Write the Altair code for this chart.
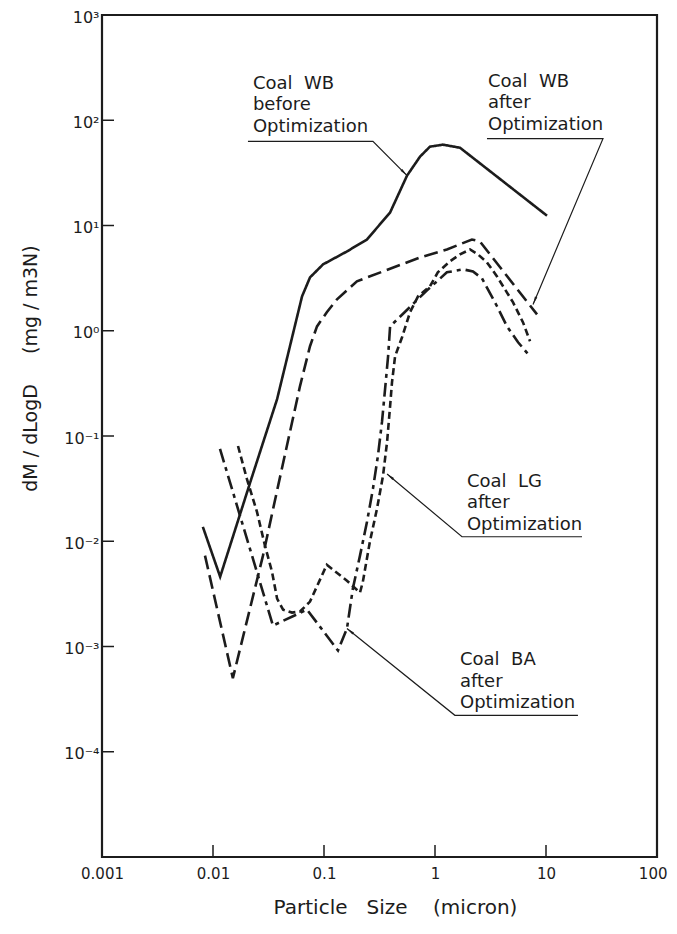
import math
import altair as alt
import pandas as pd

# ---------------- data ----------------
series_names = ["Coal WB before", "Coal WB after", "Coal LG after", "Coal BA after"]

wb_before_x = [0.0081, 0.0116, 0.022, 0.0378, 0.0634, 0.0748, 0.098, 0.161, 0.244, 0.394,
               0.56, 0.733, 0.90, 1.18, 1.68, 10.2]
wb_before_y = [0.0137, 0.0046, 0.0383, 0.224, 2.12, 3.21, 4.27, 5.67, 7.37, 13.3,
               29.8, 45.1, 56.1, 58.6, 54.8, 12.4]

wb_after_x = [0.00847, 0.0151, 0.0282, 0.0386, 0.0608, 0.0748, 0.0865, 0.106, 0.131, 0.198,
              0.340, 0.733, 1.28, 2.15, 2.54, 8.3]
wb_after_y = [0.0073, 0.0005, 0.0073, 0.0336, 0.298, 0.713, 1.10, 1.50, 1.99, 2.95,
              3.66, 4.97, 5.92, 7.36, 7.05, 1.43]

lg_x = [0.0168, 0.0202, 0.0249, 0.0294, 0.034, 0.0378, 0.0428, 0.0515, 0.0608, 0.0748,
        0.106, 0.161, 0.211, 0.224, 0.259, 0.300, 0.340, 0.370, 0.394, 0.410,
        0.437, 0.505, 0.596, 0.703, 0.90, 1.06, 1.36, 1.68, 2.07, 2.44,
        2.94, 3.62, 5.05, 6.21, 7.18]
lg_y = [0.0804, 0.0391, 0.019, 0.00906, 0.00514, 0.00285, 0.00224, 0.0021, 0.00215, 0.00267,
        0.00598, 0.00422, 0.00325, 0.00413, 0.00989, 0.0203, 0.0418, 0.0877, 0.192, 0.325,
        0.573, 0.868, 1.50, 2.12, 2.64, 3.59, 4.56, 5.31, 5.92, 5.31,
        4.46, 3.28, 1.86, 1.20, 0.795]

ba_x = [0.01156, 0.0347, 0.0703, 0.1336, 0.161, 0.182, 0.211, 0.244, 0.276, 0.306,
        0.333, 0.355, 0.378, 0.394, 0.847, 1.28, 1.79, 2.20, 2.65, 3.62,
        4.45, 5.6, 6.9]
ba_y = [0.0753, 0.00158, 0.00224, 0.000916, 0.00148, 0.00355, 0.0073, 0.0153, 0.0315, 0.0646,
        0.136, 0.279, 0.573, 1.10, 2.42, 3.59, 3.83, 3.66, 3.14, 1.71,
        1.10, 0.778, 0.599]

x_tick_values = [0.001, 0.01, 0.1, 1, 10, 100]
y_tick_values = [1e-5, 1e-4, 1e-3, 1e-2, 1e-1, 1, 10, 100, 1000]

NB = "\u00a0"
label_text = ["Coal" + NB * 2 + "WB\nbefore\nOptimization",
              "Coal" + NB * 2 + "WB\nafter\nOptimization",
              "Coal" + NB * 2 + "LG\nafter\nOptimization",
              "Coal" + NB * 2 + "BA\nafter\nOptimization"]
label_x = [0.0229, 3.0, 1.94, 1.68]
label_y = [199, 208, 0.0329, 0.000661]

# callout polylines: underline start, underline end, arrow tip
callout_x = [[0.02065, 0.276, 0.56], [2.94, 32.6, 7.64], [21.1, 1.75, 0.370], [19.4, 1.51, 0.161]]
callout_y = [[63.0, 63.0, 29.8], [66.8, 66.8, 1.78], [0.01104, 0.01104, 0.0436], [0.000222, 0.000222, 0.00148]]

X_TITLE = "Particle" + NB * 3 + "Size" + NB * 4 + "(micron)"
Y_TITLE = "dM" + NB + "/" + NB + "dLogD" + NB * 5 + "(mg" + NB + "/" + NB + "m3N)"

# ---------------- layout ----------------
W, H = 555, 842
X_DEC, Y_DEC = 5, 8
INK = "#1c1c1c"
FONT = "DejaVu Sans"

rows = []
for name, xs, ys in zip(series_names, [wb_before_x, wb_after_x, lg_x, ba_x],
                        [wb_before_y, wb_after_y, lg_y, ba_y]):
    for i, (a, b) in enumerate(zip(xs, ys)):
        rows.append({"series": name, "idx": i, "x": a, "y": b})
curves = pd.DataFrame(rows)


def px(v):
    return (math.log10(v) + 3) / X_DEC * W


def py(v):
    return (3 - math.log10(v)) / Y_DEC * H


c_rows, a_rows = [], []
for k, (cx, cy) in enumerate(zip(callout_x, callout_y)):
    for i, (a, b) in enumerate(zip(cx, cy)):
        c_rows.append({"cid": k, "idx": i, "x": a, "y": b})
    dx = px(cx[2]) - px(cx[1])
    dy = py(cy[2]) - py(cy[1])
    ang = math.degrees(math.atan2(dx, -dy)) % 360
    a_rows.append({"x": cx[2], "y": cy[2], "angle": ang})
callouts = pd.DataFrame(c_rows)
arrows = pd.DataFrame(a_rows)
labels = pd.DataFrame({"x": label_x, "y": label_y, "text": label_text})
xt = pd.DataFrame({"x": x_tick_values})
yt = pd.DataFrame({"y": y_tick_values})

x_scale = alt.Scale(type="log", domain=[0.001, 100], nice=False)
y_scale = alt.Scale(type="log", domain=[1e-5, 1e3], nice=False)

x_axis = alt.Axis(values=x_tick_values, format="~g", ticks=False, domain=False, grid=False,
                  labelFlush=False, labelOverlap=False, labelFont=FONT, labelFontSize=15,
                  labelColor=INK, labelPadding=9,
                  labelAlign={"condition": {"test": "datum.value >= 100", "value": "right"},
                              "value": "center"},
                  labelOffset={"condition": {"test": "datum.value >= 100", "value": 10},
                               "value": 0},
                  titleFont=FONT, titleFontSize=20,
                  titleFontWeight="normal", titleColor=INK, titleX=293, titleY=50,
                  titleBaseline="middle", titleAlign="center")
y_label_expr = ("datum.value < 5e-5 ? '' : '10' + ['⁻⁵','⁻⁴','⁻³','⁻²','⁻¹','⁰','¹','²','³']"
                "[round(log(datum.value)/LN10) + 5]")
y_axis = alt.Axis(values=y_tick_values, labelExpr=y_label_expr, ticks=False, domain=False, grid=False,
                  labelOverlap=False, labelFont=FONT, labelFontSize=16, labelColor=INK,
                  labelPadding=3, labelOffset=2, titleFont=FONT, titleFontSize=19,
                  titleFontWeight="normal", titleColor=INK, titleAngle=270, titleX=-72,
                  titleY=353, titleAlign="center", titleBaseline="middle")


def xe(field="x:Q"):
    return alt.X(field, scale=x_scale, axis=x_axis, title=X_TITLE)


def ye(field="y:Q"):
    return alt.Y(field, scale=y_scale, axis=y_axis, title=Y_TITLE)


lines = alt.Chart(curves).mark_line(color=INK, strokeWidth=2.6, strokeCap="butt").encode(
    x=xe(), y=ye(),
    strokeDash=alt.StrokeDash("series:N", legend=None,
                              scale=alt.Scale(domain=series_names,
                                              range=[[1, 0], [14, 6], [7, 4], [14, 5, 4, 5]])),
    detail="series:N",
    order="idx:Q",
)

x_ticks = alt.Chart(xt).mark_rule(color=INK, strokeWidth=1.5).encode(
    x=xe(), y=alt.value(H), y2=alt.value(H - 12))
y_ticks = alt.Chart(yt).mark_rule(color=INK, strokeWidth=1.5).encode(
    y=ye(), x=alt.value(0), x2=alt.value(12))

callout_lines = alt.Chart(callouts).mark_line(color=INK, strokeWidth=1.2).encode(
    x=xe(), y=ye(), detail="cid:N", order="idx:Q")

arrow_heads = alt.Chart(arrows).mark_point(
    shape="M0,0 L0.32,2 L-0.32,2 Z", filled=True, color=INK, opacity=1, size=64, strokeWidth=0
).encode(x=xe(), y=ye(), angle=alt.Angle("angle:Q", scale=None))

label_marks = alt.Chart(labels).mark_text(
    align="left", baseline="alphabetic", lineBreak="\n", lineHeight=21.5,
    font=FONT, fontSize=18, color=INK
).encode(x=xe(), y=ye(), text="text:N")

chart = alt.layer(lines, x_ticks, y_ticks, callout_lines, arrow_heads, label_marks).properties(
    width=W, height=H,
    autosize=alt.AutoSizeParams(type="none"),
    padding={"left": 94, "top": 7, "right": 12, "bottom": 69},
).configure_view(stroke=INK, strokeWidth=2.2)

chart.save("out.html", embed_options={"renderer": "svg", "actions": False})
